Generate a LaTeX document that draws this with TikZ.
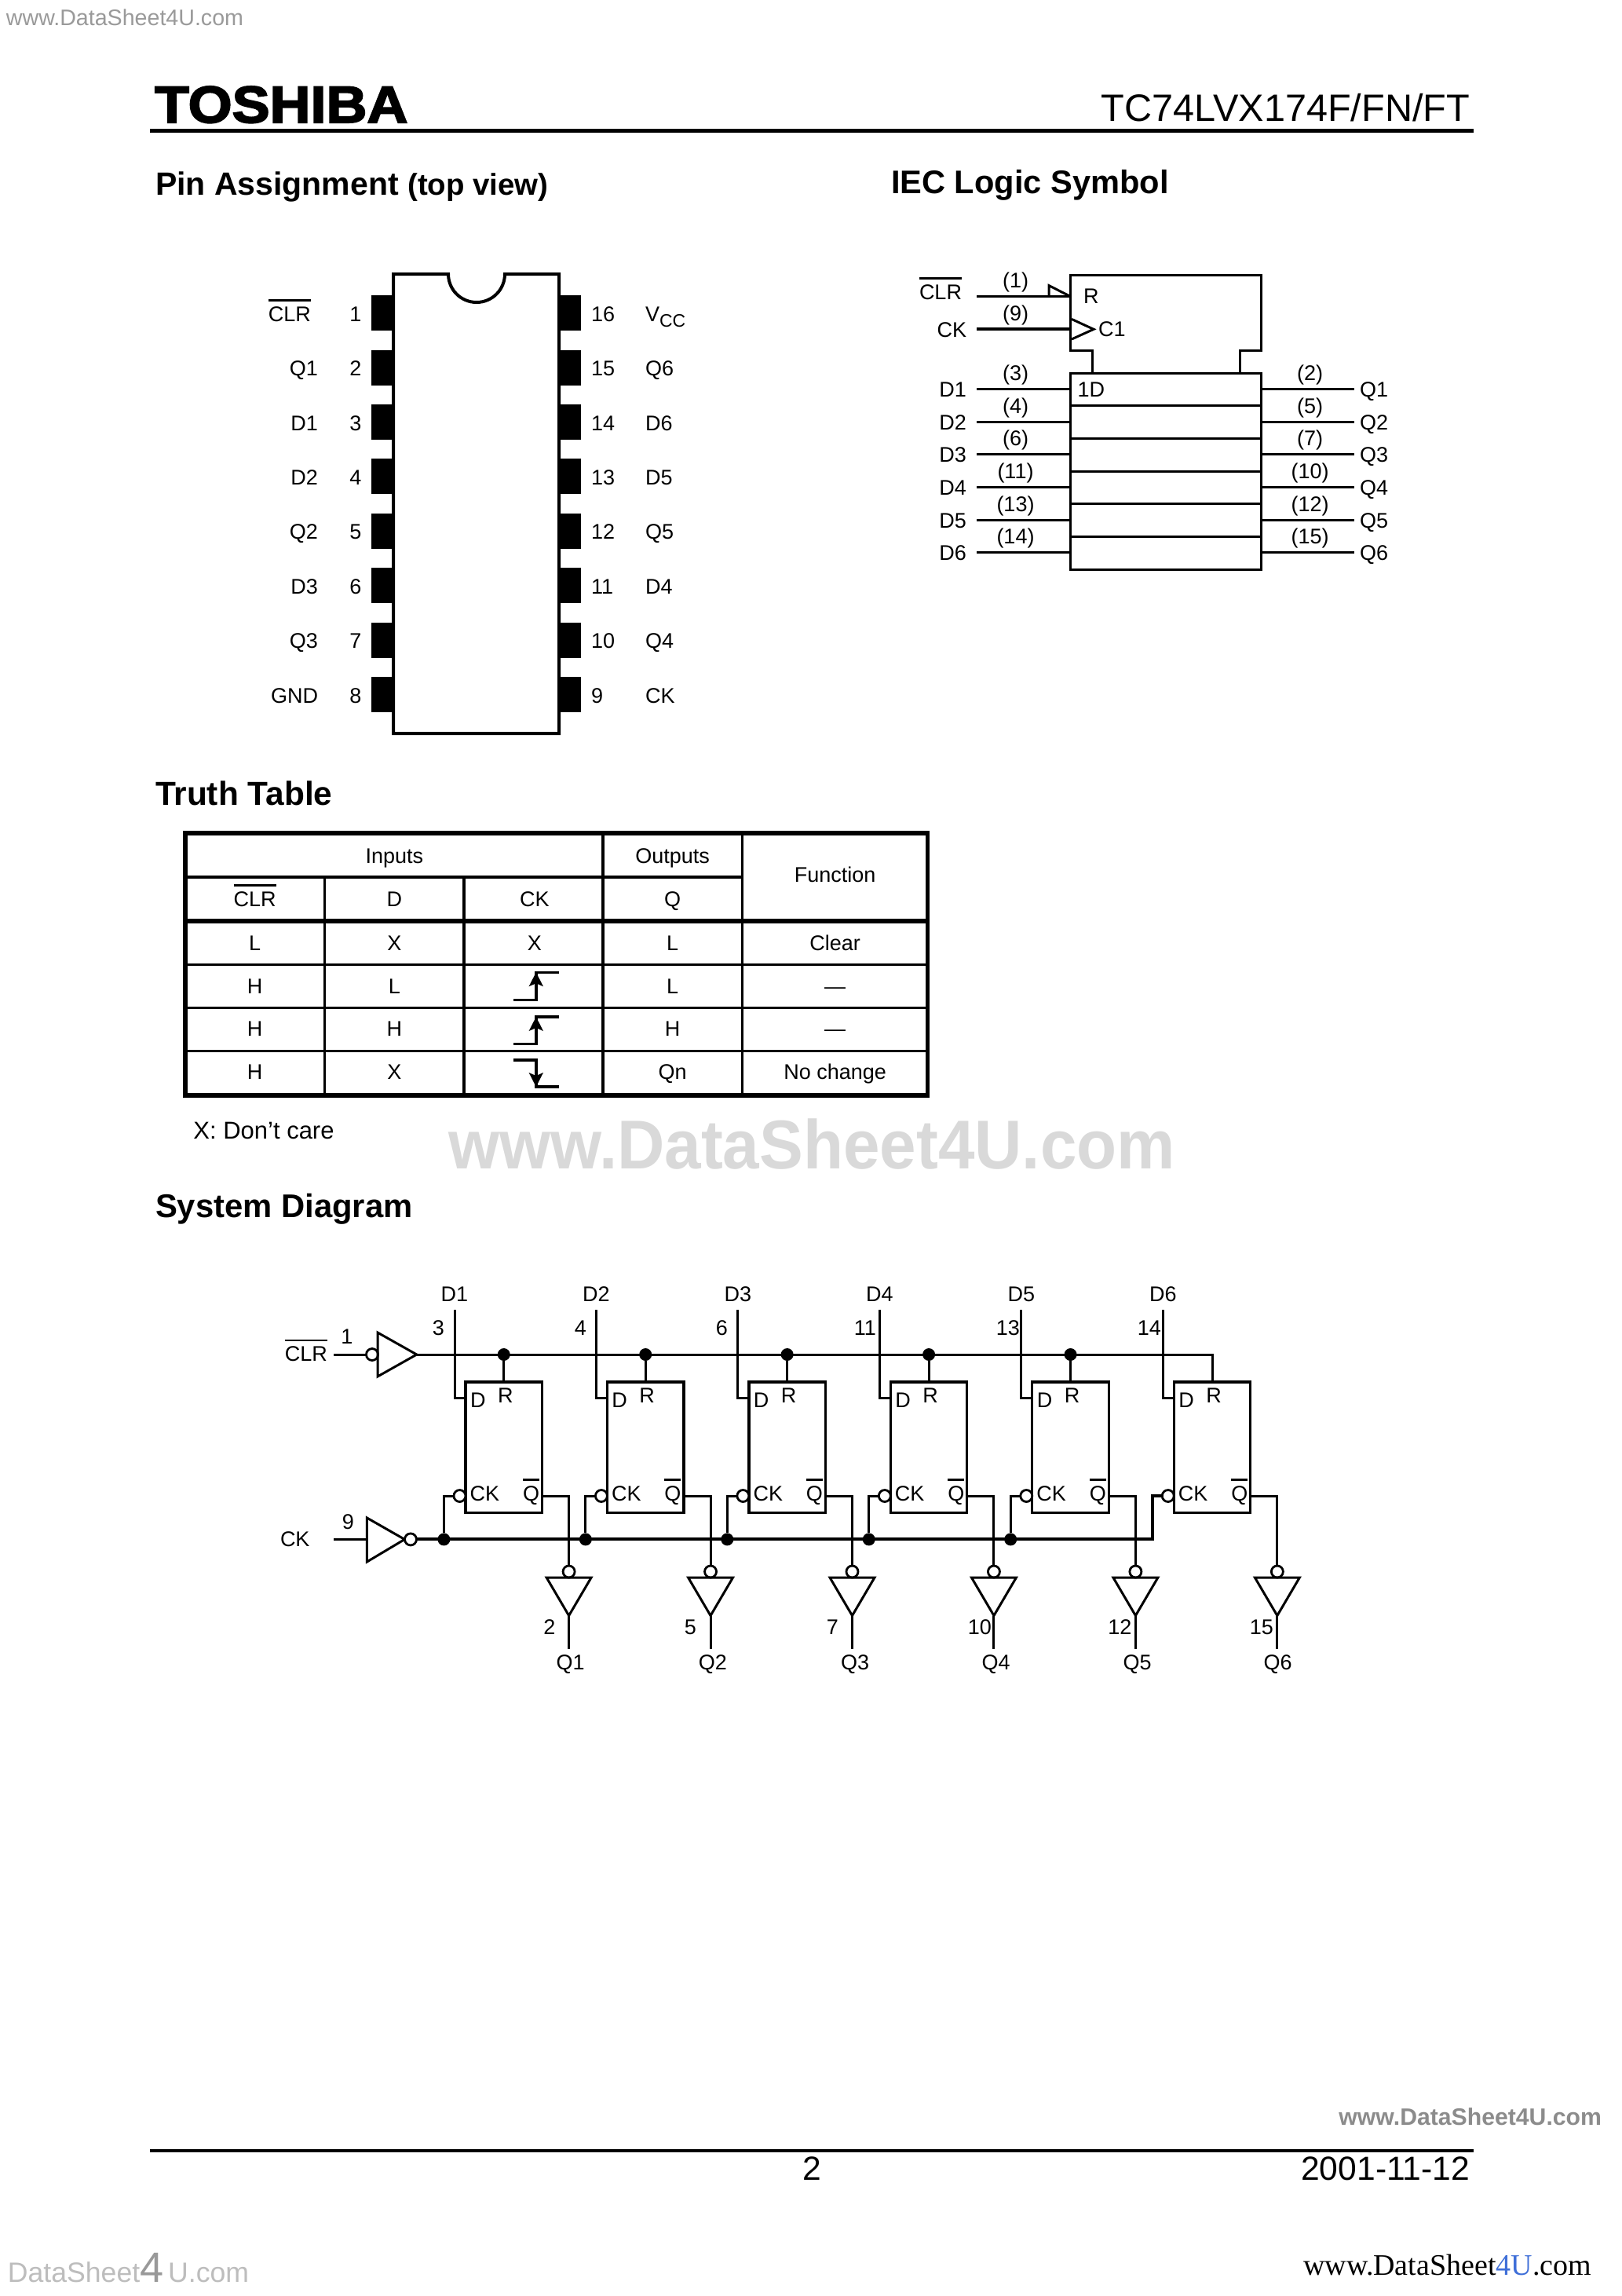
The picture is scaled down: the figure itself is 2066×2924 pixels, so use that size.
\documentclass[tikz,border=0pt]{standalone}
\usepackage{fontspec}
\setmainfont{Liberation Sans}
\newfontfamily\serifwm{Liberation Serif}
\newfontfamily\logofont[FakeBold=3,FakeStretch=1.09]{Liberation Sans Bold}
\newcounter{tn}
\newcommand\ovl[1]{\setbox0=\hbox{#1}\hbox{\rlap{\rule[12.6pt]{\wd0}{1.4pt}}\box0}}
\newcommand\fs[1]{\fontsize{#1}{#1}\selectfont}
\tikzset{
  x=0.5pt,y=-0.5pt,
  txt/.style={inner sep=0pt,outer sep=0pt,font=\fs{13.5}},
  ln/.style={line width=1.5pt,line join=miter},
  lnb/.style={line width=2pt,line join=miter},
  pinbox/.style={fill=black,inner sep=0pt,outer sep=0pt,minimum width=14pt,minimum height=22.5pt},
  ffbox/.style={draw,line width=1.6pt,fill=white,inner sep=0pt,outer sep=0pt,minimum width=48.75pt,minimum height=83.2pt},
  bub/.style={draw,line width=1.4pt,fill=white,circle,inner sep=0pt,outer sep=0pt,minimum size=7.5pt},
  jdot/.style={fill=black,circle,inner sep=0pt,outer sep=0pt,minimum size=8pt},
}
\newcommand\T[4][base]{\stepcounter{tn}\node[txt,anchor=#1] (t\thetn) at (#2,#3) {#4};}
\begin{document}
\begin{tikzpicture}
\useasboundingbox (0,0) rectangle (2066,2924);
\fill[white] (0,0) rectangle (2066,2924);
% header
\node[txt,anchor=base west,font=\fs{33}\logofont] (logo) at (197,156) {TOSHIBA};
\T[base east]{1872}{154.5}{\fs{24.3}TC74LVX174F/FN/FT}
\coordinate (hr1) at (191,166); \coordinate (hr2) at (1877,166);
\draw[line width=2.5pt] (hr1) -- (hr2);
\T[base west]{198}{248}{\fs{20.5}\bfseries Pin Assignment {\fs{19.2}(top view)}}
\T[base west]{1135}{246}{\fs{20.8}\bfseries IEC Logic Symbol}
\T[base west]{198}{1025}{\fs{21.2}\bfseries Truth Table}
\T[base west]{198}{1550}{\fs{20.9}\bfseries System Diagram}
% watermarks
\T[base west]{8}{32}{\fs{14.3}\color[HTML]{9A9A9A}www.DataSheet4U.com}
\node[txt,anchor=base west,xscale=0.95,font=\fs{44}\bfseries,text=black!15] (wm) at (571,1488) {www.DataSheet4U.com};
\T[base east]{2040}{2706}{\fs{15.1}\bfseries\color[HTML]{8C8C8C}www.DataSheet4U.com}
\T[base west]{10}{2906}{\fs{17.8}\color[HTML]{BDBDBD}DataSheet{\fs{27}\color[HTML]{999999}4}\,U.com}
\T[base east]{2027}{2897}{\fs{19}\serifwm www.DataSheet{\color[HTML]{3F6FD8}4U}.com}
% footer
\coordinate (fr1) at (191,2739); \coordinate (fr2) at (1877,2739);
\draw[line width=2.2pt] (fr1) -- (fr2);
\T{1034}{2776}{\fs{21.3}2}
\T[base east]{1872}{2776}{\fs{21.3}2001-11-12}
% pin assignment
\draw[line width=2pt,fill=white] (501,349) -- (571,349) arc[start angle=180,end angle=360,radius=18pt] -- (712,349) -- (712,934) -- (501,934) -- cycle;
\foreach \n/\lab/\e [count=\k from 0] in {1/{\ovl{CLR}}/396,2/Q1/405,3/D1/405,4/D2/405,5/Q2/405,6/D3/405,7/Q3/405,8/GND/405}{
  \pgfmathsetmacro\cy{398.6+69.46*\k}
  \pgfmathsetmacro\by{\cy+10.5}
  \node[pinbox,anchor=east] (pl\n) at (501,\cy) {};
  \T{453}{\by}{\n}
  \T[base east]{\e}{\by}{\lab}
}
\foreach \n/\lab [count=\k from 0] in {16/{V\raisebox{-3.5pt}{\fs{11.5}CC}},15/Q6,14/D6,13/D5,12/Q5,11/D4,10/Q4,9/CK}{
  \pgfmathsetmacro\cy{398.6+69.46*\k}
  \pgfmathsetmacro\by{\cy+10.5}
  \node[pinbox,anchor=west] (pr\n) at (712,\cy) {};
  \T[base west]{753}{\by}{\n}
  \T[base west]{822}{\by}{\lab}
}
% IEC symbol
\draw[ln] (1391.4,475) -- (1391.4,446.4) -- (1363.4,446.4) -- (1363.4,350) -- (1606,350) -- (1606,446.4) -- (1579,446.4) -- (1579,475);
\node[draw,line width=1.5pt,inner sep=0pt,outer sep=0pt,minimum width=121.3pt,minimum height=125pt,anchor=north west] (iecb) at (1363.4,475) {};
\foreach \rw in {1,...,5}{
  \pgfmathsetmacro\ry{475+41.7*\rw}
  \coordinate (rowl\rw) at (1363.4,\ry); \coordinate (rowr\rw) at (1606,\ry);
  \draw[ln] (rowl\rw) -- (rowr\rw);
}
\coordinate (iclr) at (1244,377.5); \coordinate (iclre) at (1363.4,377.5);
\coordinate (ick) at (1244,419.3); \coordinate (icke) at (1365,419.3);
\draw[ln] (iclr) -- (iclre);
\draw[lnb] (ick) -- (icke);
\draw[ln] (1336,377.5) -- (1336,363.6) -- (1363.4,377.5);
\draw[ln] (1365,406.4) -- (1393,419.3) -- (1365,432);
\T[base east]{1225}{381}{\ovl{CLR}}
\T[base east]{1231}{429}{CK}
\T{1293.5}{366.5}{(1)}
\T{1293.5}{408.3}{(9)}
\T[base west]{1380}{386.4}{R}
\T[base west]{1399}{428.6}{C1}
\T[base west]{1372.5}{505.4}{1D}
\foreach \dnm/\dpn/\qpn/\qnm [count=\k from 0] in {D1/(3)/(2)/Q1,D2/(4)/(5)/Q2,D3/(6)/(7)/Q3,D4/(11)/(10)/Q4,D5/(13)/(12)/Q5,D6/(14)/(15)/Q6}{
  \pgfmathsetmacro\ly{495.4+41.7*\k}
  \pgfmathsetmacro\nb{\ly-11}
  \pgfmathsetmacro\lb{\ly+10}
  \coordinate (il\k) at (1244,\ly); \coordinate (ile\k) at (1363.4,\ly);
  \coordinate (ol\k) at (1606,\ly); \coordinate (ole\k) at (1725,\ly);
  \draw[ln] (il\k) -- (ile\k);
  \draw[ln] (ol\k) -- (ole\k);
  \T[base east]{1231}{\lb}{\dnm}
  \T[base west]{1732}{\lb}{\qnm}
  \T{1293.5}{\nb}{\dpn}
  \T{1668.5}{\nb}{\qpn}
}
% truth table
\draw[line width=2.8pt] (236,1060.7) rectangle (1181.6,1394.7);
\draw[line width=1.5pt] (413.6,1116.7) -- (413.6,1394.7);
\draw[line width=2pt] (591.3,1116.7) -- (591.3,1394.7);
\draw[line width=1.8pt] (767.8,1060.7) -- (767.8,1394.7);
\draw[line width=1.5pt] (945.5,1060.7) -- (945.5,1394.7);
\draw[line width=1.9pt] (236,1116.7) -- (945.5,1116.7);
\draw[line width=2.8pt] (236,1172.7) -- (1181.6,1172.7);
\draw[line width=1.5pt] (236,1228.3) -- (1181.6,1228.3);
\draw[line width=1.8pt] (236,1283.3) -- (1181.6,1283.3);
\draw[line width=1.8pt] (236,1338.3) -- (1181.6,1338.3);
\T{502.4}{1099.3}{Inputs}
\T{856.6}{1099.3}{Outputs}
\T{1063.6}{1123.3}{Function}
\T{324.7}{1154}{\ovl{CLR}}
\T{502.4}{1154}{D}
\T{680.9}{1154}{CK}
\T{856.6}{1154}{Q}
\T{324.7}{1210.7}{L}\T{502.4}{1210.7}{X}\T{680.9}{1210.7}{X}\T{856.6}{1210.7}{L}\T{1063.6}{1210.7}{Clear}
\T{324.7}{1265}{H}\T{502.4}{1265}{L}\T{856.6}{1265}{L}\T{1063.6}{1265}{—}
\T{324.7}{1319.3}{H}\T{502.4}{1319.3}{H}\T{856.6}{1319.3}{H}\T{1063.6}{1319.3}{—}
\T{324.7}{1374}{H}\T{502.4}{1374}{X}\T{856.6}{1374}{Qn}\T{1063.6}{1374}{No change}
\T[base west]{246.4}{1450.7}{\fs{15.5}X: Don’t care}
% clock edge symbols
\foreach \tp/\bt in {1238.3/1273.3,1295/1329.3}{
  \draw[line width=1.7pt] (654.3,\bt) -- (682.8,\bt) -- (682.8,\tp) -- (712,\tp);
  \fill (682.8,\tp) -- (692,\tp+18) -- (682.8,\tp+14) -- (673.6,\tp+18) -- cycle;
}
\draw[line width=1.7pt] (654.3,1350) -- (682.8,1350) -- (682.8,1384) -- (712,1384);
\fill (682.8,1384) -- (692,1366) -- (682.8,1370) -- (673.6,1366) -- cycle;
% system diagram: inputs
\coordinate (cin) at (425,1725);
\node[bub] (cb) at (474,1725) {};
\coordinate (ct1) at (481,1697); \coordinate (ct2) at (481,1753); \coordinate (cto) at (530.7,1725);
\draw[ln] (cin) -- (cb);
\draw[ln] (ct1) -- (cto) -- (ct2) -- cycle;
\coordinate (kin) at (425,1960.4);
\coordinate (kt1) at (467.4,1933); \coordinate (kt2) at (467.4,1989); \coordinate (kto) at (515.4,1960.4);
\draw[ln] (kin) -- (467.4,1960.4);
\draw[ln] (kt1) -- (kto) -- (kt2) -- cycle;
\node[bub] (kb) at (523,1960.4) {};
\T[base east]{417}{1733.6}{\ovl{CLR}}
\T{442}{1711}{1}
\T[base west]{357}{1969}{CK}
\T{443.5}{1947}{9}
% flip-flops
\foreach \i/\dnm/\qnm/\dsn/\qsn/\drt/\qrt/\qct in {1/D1/Q1/3/2/566/707.5/726.6,2/D2/Q2/4/5/747/887/907.8,3/D3/Q3/6/7/927/1068/1089,4/D4/Q4/11/10/1116/1263/1268.6,5/D5/Q5/13/12/1299/1441.5/1448.6,6/D6/Q6/14/15/1479/1622/1627.6}{
  \pgfmathsetmacro\xl{593+180.45*(\i-1)}
  \pgfmathsetmacro\xc{\xl+48.75}
  \pgfmathsetmacro\xr{\xl+97.5}
  \pgfmathsetmacro\xd{\xl-14}
  \pgfmathsetmacro\xq{\xl+131.6}
  \pgfmathsetmacro\xb{\xl-7.5}
  \pgfmathsetmacro\xa{\xq-28.5}
  \pgfmathsetmacro\xz{\xq+28.5}
  \node[ffbox,anchor=north west] (ff\i) at (\xl,1760) {};
  % data input
  \coordinate (dt\i) at (\xd,1668); \coordinate (db\i) at (\xd,1780.7); \coordinate (di\i) at (\xl,1780.7);
  \draw[ln] (dt\i) -- (db\i) -- (di\i);
  % clock bubble
  \node[bub] (ckb\i) at (\xb,1905) {};
  % output
  \coordinate (qo\i) at (\xr,1905); \coordinate (qb\i) at (\xq,1905);
  \node[bub] (ib\i) at (\xq,2001.5) {};
  \draw[ln] (qo\i) -- (qb\i) -- (ib\i);
  \coordinate (ia\i) at (\xa,2009); \coordinate (iz\i) at (\xz,2009); \coordinate (io\i) at (\xq,2057.5); \coordinate (ie\i) at (\xq,2100.4);
  \draw[ln] (ia\i) -- (iz\i) -- (io\i) -- cycle;
  \draw[ln] (io\i) -- (ie\i);
  % texts
  \pgfmathsetmacro\xt{\xl+6}
  \T[base west]{\xt}{1792.5}{D}
  \pgfmathsetmacro\xt{\xl+41}
  \T[base west]{\xt}{1786.4}{R}
  \pgfmathsetmacro\xt{\xl+5.6}
  \T[base west]{\xt}{1911.8}{CK}
  \pgfmathsetmacro\xt{\xl+73}
  \T[base west]{\xt}{1911}{\ovl{Q}}
  \T{\xd}{1657.5}{\dnm}
  \T[base east]{\drt}{1700}{\dsn}
  \T[base east]{\qrt}{2081.8}{\qsn}
  \T{\qct}{2126.4}{\qnm}
}
% CLR bus with junctions
\foreach \i in {1,...,5}{
  \pgfmathsetmacro\xc{593+180.45*(\i-1)+48.75}
  \node[jdot] (rd\i) at (\xc,1725) {};
  \draw[ln] (rd\i) -- (ff\i.north);
}
\coordinate (cbe) at (ff6.north |- cto);
\draw[ln] (cto) -- (cbe) -- (ff6.north);
% CK bus with junctions
\foreach \i in {1,...,5}{
  \pgfmathsetmacro\xk{593+180.45*(\i-1)-27.6}
  \node[jdot] (kd\i) at (\xk,1960.4) {};
  \coordinate (ks\i) at (\xk,1905);
  \draw[ln] (kd\i) -- (ks\i) -- (ckb\i);
}
\coordinate (kbe) at (1467.8,1960.4); \coordinate (ks6) at (1467.8,1905);
\draw[lnb] (kb) -- (kbe) -- (ks6) -- (ckb6);
\end{tikzpicture}
\end{document}
